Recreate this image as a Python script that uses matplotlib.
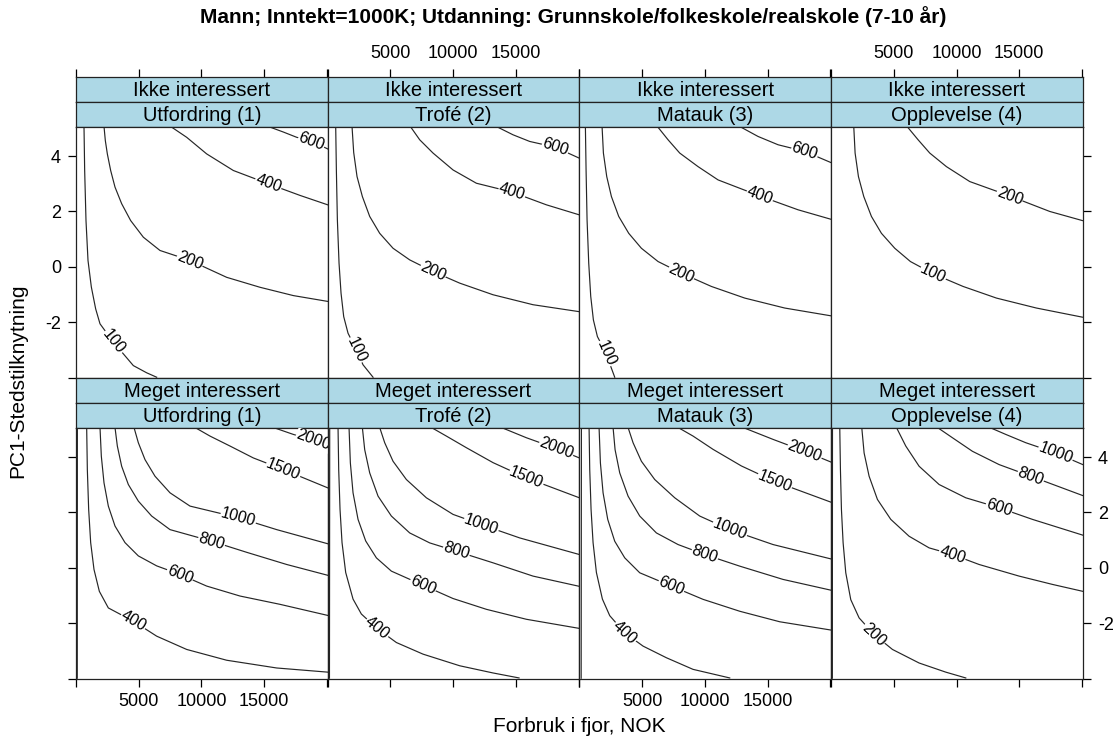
import numpy as np
import matplotlib.pyplot as plt

plt.rcParams.update({
    'font.family': ['Liberation Sans', 'DejaVu Sans'],
    'axes.unicode_minus': False,
})

# ---------------------------------------------------------------------------
# DATA (contour lines; x = Forbruk i fjor, y = PC1)
# ---------------------------------------------------------------------------
interest_names = ['Ikke interessert', 'Meget interessert']
motive_names = ['Utfordring (1)', 'Trofé (2)', 'Matauk (3)', 'Opplevelse (4)']

x_ticks = [0, 5000, 10000, 15000, 20000]
x_ticklabels = ['', '5000', '10000', '15000', '']
y_ticks = [-4, -2, 0, 2, 4]
y_ticklabels = ['', '-2', '0', '2', '4']
x_range = (0, 20070)
y_range = (-4.0, 5.07)

# --- Ikke interessert ---
ikke_utf_lev = [100, 200, 400, 600]
ikke_utf_x = [[638, 691, 797, 957, 1223, 1568, 1914, 2977, 4572, 5635, 6432],
              [2233, 2339, 2499, 2764, 3110, 3641, 4359, 5369, 6698, 9090,
               12014, 14672, 17330, 20068],
              [7549, 8824, 10419, 12546, 15337, 17862, 20068],
              [15337, 16533, 17596, 18793, 20068]]
ikke_utf_y = [[5.07, 3.48, 1.67, 0.23, -0.73, -1.52, -2.06, -2.72, -3.57, -3.83, -3.99],
              [5.07, 4.56, 4.08, 3.48, 2.88, 2.28, 1.67, 1.07, 0.59, 0.23,
               -0.38, -0.74, -1.04, -1.25],
              [5.07, 4.68, 4.08, 3.48, 3.00, 2.58, 2.24],
              [5.07, 4.87, 4.68, 4.54, 4.26]]
ikke_utf_lab = [7, 9, 4, 3]

ikke_tro_lev = [100, 200, 400, 600]
ikke_tro_x = [[638, 691, 771, 904, 1063, 1276, 1621, 2286, 2817, 3615],
              [1940, 2073, 2339, 2764, 3349, 4146, 5210, 6539, 8399, 10526,
               13184, 16373, 20041],
              [6592, 7336, 8399, 9994, 11855, 14698, 17436, 20041],
              [13449, 14778, 16107, 18154, 20041]]
ikke_tro_y = [[5.07, 3.50, 1.70, 0.13, -0.95, -1.80, -2.40, -3.00, -3.54, -3.99],
              [5.07, 4.13, 3.26, 2.54, 1.82, 1.21, 0.67, 0.25, -0.17, -0.59,
               -1.01, -1.37, -1.62],
              [5.07, 4.59, 4.11, 3.50, 3.02, 2.70, 2.24, 1.88],
              [5.07, 4.77, 4.53, 4.32, 3.93]]
ikke_tro_lab = [7, 8, 5, 3]

ikke_mat_lev = [100, 200, 400, 600]
ikke_mat_x = [[478, 532, 611, 744, 904, 1116, 1435, 2126, 2499, 2817],
              [1807, 1914, 2180, 2552, 3136, 3934, 4944, 6273, 8133, 10526,
               13184, 16373, 20041],
              [6220, 7070, 8000, 9462, 11057, 14380, 17436, 20041],
              [12785, 14246, 15842, 17968, 20041]]
ikke_mat_y = [[5.07, 3.50, 1.70, 0.13, -1.07, -1.92, -2.52, -3.12, -3.60, -3.99],
              [5.07, 4.11, 3.26, 2.54, 1.82, 1.21, 0.67, 0.19, -0.23, -0.71,
               -1.13, -1.49, -1.77],
              [5.07, 4.59, 4.11, 3.62, 3.14, 2.56, 2.06, 1.72],
              [5.07, 4.71, 4.41, 4.17, 3.77]]
ikke_mat_lab = [7, 8, 5, 3]

ikke_opp_lev = [100, 200]
ikke_opp_x = [[1807, 1914, 2180, 2605, 3216, 4014, 5077, 6326, 8133, 10526,
               13184, 16373, 20041],
              [6060, 6937, 7867, 9196, 11057, 14246, 17436, 20041]]
ikke_opp_y = [[5.07, 4.11, 3.26, 2.54, 1.82, 1.21, 0.67, 0.19, -0.25, -0.71,
               -1.13, -1.49, -1.82],
              [5.07, 4.59, 4.11, 3.62, 3.08, 2.56, 2.00, 1.67]]
ikke_opp_lab = [8, 5]

# --- Meget interessert ---
meget_utf_lev = [200, 400, 600, 800, 1000, 1500, 2000]
meget_utf_x = [[110, 100],
               [851, 904, 1010, 1170, 1435, 1861, 2578, 4572, 6432, 8824,
                12014, 16001, 20068],
               [1914, 2020, 2233, 2578, 3110, 3907, 4970, 6432, 8293, 10419,
                13077, 16267, 20068],
               [3110, 3296, 3641, 4173, 4970, 6034, 7496, 10818, 13609, 16799, 20068],
               [4625, 4970, 5502, 6299, 7496, 9090, 12945, 16001, 20068],
               [9489, 10685, 12280, 14141, 16533, 20068],
               [15736, 17330, 18925, 20068]]
meget_utf_y = [[5.07, -3.99],
               [5.07, 3.55, 2.11, 0.91, -0.06, -0.85, -1.45, -1.93, -2.47, -2.95,
                -3.34, -3.62, -3.77],
               [5.07, 4.03, 3.07, 2.23, 1.51, 0.91, 0.43, 0.07, -0.24, -0.66,
                -1.02, -1.32, -1.72],
               [5.07, 4.40, 3.67, 3.01, 2.41, 1.87, 1.38, 0.96, 0.56, 0.12, -0.27],
               [5.07, 4.52, 3.91, 3.31, 2.71, 2.23, 1.81, 1.38, 0.87],
               [5.07, 4.76, 4.40, 3.97, 3.55, 2.89],
               [5.07, 4.82, 4.61, 4.37]]
meget_utf_lab = [None, 7, 8, 7, 6, 4, 2]

meget_tro_lev = [200, 400, 600, 800, 1000, 1500, 2000]
meget_tro_x = [[160, 140],
               [824, 877, 983, 1143, 1435, 2020, 2684, 3934, 5476, 7602,
                10526, 13184, 15257],
               [1701, 1807, 2020, 2419, 3030, 3881, 5077, 7602, 9994, 12652,
                15842, 20068],
               [2764, 2950, 3349, 4014, 5077, 6539, 8133, 10260, 13184, 16373, 20068],
               [4146, 4545, 5210, 6273, 7868, 9994, 12253, 15310, 20068],
               [8266, 9462, 11057, 13184, 15842, 20068],
               [13848, 15842, 18234, 20068]]
meget_tro_y = [[5.07, -3.99],
               [5.07, 3.55, 2.11, 0.91, -0.17, -1.13, -1.67, -2.19, -2.70, -3.12,
                -3.54, -3.80, -3.98],
               [5.07, 3.79, 2.71, 1.75, 0.97, 0.36, -0.12, -0.63, -1.11, -1.50,
                -1.86, -2.19],
               [5.07, 4.27, 3.43, 2.59, 1.87, 1.26, 0.90, 0.60, 0.18, -0.30, -0.67],
               [5.07, 4.52, 3.85, 3.19, 2.53, 1.93, 1.56, 1.08, 0.48],
               [5.07, 4.76, 4.34, 3.80, 3.25, 2.53],
               [5.07, 4.70, 4.31, 3.97]]
meget_tro_lab = [None, 7, 7, 7, 6, 4, 2]

meget_mat_lev = [200, 400, 600, 800, 1000, 1500, 2000]
meget_mat_x = [[160, 140],
               [771, 824, 930, 1090, 1356, 1834, 2419, 3615, 5077, 6937, 9063, 11987],
               [1568, 1675, 1887, 2259, 2817, 3615, 4811, 7336, 9861, 12785,
                15975, 20068],
               [2685, 2844, 3216, 3881, 4811, 6140, 7868, 9994, 12785, 16240, 20068],
               [3881, 4279, 4944, 6007, 7602, 9595, 11987, 15443, 20068],
               [7868, 9063, 10658, 12918, 15576, 20068],
               [13051, 15443, 17968, 20068]]
meget_mat_y = [[5.07, -3.99],
               [5.07, 3.55, 2.11, 0.91, -0.17, -1.13, -1.73, -2.35, -2.83, -3.25,
                -3.67, -3.98],
               [5.07, 3.79, 2.71, 1.75, 0.96, 0.36, -0.18, -0.66, -1.14, -1.57,
                -1.95, -2.25],
               [5.07, 4.27, 3.43, 2.59, 1.87, 1.26, 0.84, 0.48, 0.06, -0.42, -0.81],
               [5.07, 4.52, 3.85, 3.19, 2.53, 1.87, 1.38, 0.84, 0.32],
               [5.07, 4.76, 4.28, 3.68, 3.12, 2.37],
               [5.07, 4.64, 4.21, 3.82]]
meget_mat_lab = [None, 7, 7, 7, 6, 4, 2]

meget_opp_lev = [100, 200, 400, 600, 800, 1000]
meget_opp_x = [[110, 100],
               [691, 744, 824, 957, 1170, 1568, 2233, 3429, 4891, 7017, 9143, 10738],
               [2445, 2632, 3030, 3695, 4758, 6220, 7815, 9675, 11801, 14991,
                17649, 20068],
               [5210, 5954, 7017, 8612, 10738, 13396, 16054, 20068],
               [8479, 9675, 11270, 13396, 15922, 20068],
               [12652, 13928, 15523, 17915, 20068]]
meget_opp_y = [[5.07, -3.99],
               [5.07, 3.55, 2.11, 0.91, -0.18, -1.15, -1.81, -2.41, -2.95, -3.44,
                -3.77, -3.98],
               [5.07, 4.15, 3.31, 2.47, 1.75, 1.14, 0.72, 0.48, 0.12, -0.30,
                -0.60, -0.85],
               [5.07, 4.40, 3.67, 3.01, 2.53, 2.17, 1.75, 1.18],
               [5.07, 4.70, 4.21, 3.73, 3.31, 2.61],
               [5.07, 4.82, 4.52, 4.15, 3.73]]
meget_opp_lab = [None, 7, 7, 5, 4, 3]

panels = [
    [(ikke_utf_lev, ikke_utf_x, ikke_utf_y, ikke_utf_lab),
     (ikke_tro_lev, ikke_tro_x, ikke_tro_y, ikke_tro_lab),
     (ikke_mat_lev, ikke_mat_x, ikke_mat_y, ikke_mat_lab),
     (ikke_opp_lev, ikke_opp_x, ikke_opp_y, ikke_opp_lab)],
    [(meget_utf_lev, meget_utf_x, meget_utf_y, meget_utf_lab),
     (meget_tro_lev, meget_tro_x, meget_tro_y, meget_tro_lab),
     (meget_mat_lev, meget_mat_x, meget_mat_y, meget_mat_lab),
     (meget_opp_lev, meget_opp_x, meget_opp_y, meget_opp_lab)],
]

# ---------------------------------------------------------------------------
# LAYOUT (pixels)
# ---------------------------------------------------------------------------
W, H = 1119, 748
fig = plt.figure(figsize=(W / 100, H / 100), dpi=100)

PAN_L, PAN_W = 76, 251.7
ROW_TOP = [76.5, 377.5]
STRIP_H, PAN_H = 25, 251
STRIP_COL = '#ADD8E6'
LINE_COL = '#262626'
TICK_LEN = 5.8


def box(left, top, width, height):
    return [left / W, 1 - (top + height) / H, width / W, height / H]


def style_spines(ax):
    for s in ax.spines.values():
        s.set_color('#222222')
        s.set_linewidth(0.9)


for r in range(2):
    for c in range(4):
        left = PAN_L + c * PAN_W
        top = ROW_TOP[r]
        # strips
        s1 = fig.add_axes(box(left, top, PAN_W, STRIP_H))
        s2 = fig.add_axes(box(left, top + STRIP_H, PAN_W, STRIP_H))
        for s, txt in ((s1, interest_names[r]), (s2, motive_names[c])):
            s.set_facecolor(STRIP_COL)
            s.set_xlim(*x_range)
            s.set_yticks([])
            s.set_xticks([])
            style_spines(s)
            s.text(0.5, 0.45, txt, transform=s.transAxes, ha='center',
                   va='center', fontsize=14.5)
        if r == 0:
            s1.set_xticks(x_ticks)
            s1.xaxis.tick_top()
            s1.tick_params(axis='x', direction='out', length=TICK_LEN,
                           width=0.9, pad=5, labelsize=13,
                           labeltop=(c % 2 == 1))
            s1.set_xticklabels(x_ticklabels)

        ax = fig.add_axes(box(left, top + 2 * STRIP_H, PAN_W, PAN_H))
        ax.set_xlim(*x_range)
        ax.set_ylim(*y_range)
        style_spines(ax)

        if r == 1:
            ax.set_xticks(x_ticks)
            ax.set_xticklabels(x_ticklabels)
            ax.tick_params(axis='x', direction='out', length=TICK_LEN,
                           width=0.9, pad=5, labelsize=13,
                           labelbottom=(c % 2 == 0))
        else:
            ax.set_xticks([])

        if c == 0 or c == 3:
            ax.set_yticks(y_ticks)
            ax.set_yticklabels(y_ticklabels)
            ax.tick_params(axis='y', direction='out', length=TICK_LEN,
                           width=0.9, pad=5, labelsize=13)
            if c == 0:
                ax.tick_params(axis='y', left=True, right=False,
                               labelleft=(r == 0), labelright=False)
            else:
                ax.yaxis.tick_right()
                ax.tick_params(axis='y', labelright=(r == 1))
        else:
            ax.set_yticks([])

        levels, xs, ys, labs = panels[r][c]
        for lev, xv, yv, li in zip(levels, xs, ys, labs):
            ax.plot(xv, yv, color=LINE_COL, lw=0.85, zorder=2,
                    solid_joinstyle='round')
            if li is None:
                continue
            pts = ax.transData.transform(np.column_stack([xv, yv]))
            i0, i1 = max(li - 1, 0), min(li + 1, len(xv) - 1)
            ang = np.degrees(np.arctan2(pts[i1, 1] - pts[i0, 1],
                                        pts[i1, 0] - pts[i0, 0]))
            if ang > 90:
                ang -= 180
            if ang < -90:
                ang += 180
            ax.text(xv[li], yv[li], str(lev), rotation=ang,
                    rotation_mode='anchor', ha='center', va='center',
                    fontsize=11.5, zorder=3, clip_on=True,
                    bbox=dict(fc='white', ec='none', pad=0.3))

fig.text(573 / W, 1 - 17 / H,
         'Mann; Inntekt=1000K; Utdanning: Grunnskole/folkeskole/realskole (7-10 år)',
         ha='center', va='center', fontsize=15, fontweight='bold')
fig.text(579.5 / W, 1 - 726 / H, 'Forbruk i fjor, NOK', ha='center',
         va='center', fontsize=15)
fig.text(18 / W, 1 - 381 / H, 'PC1-Stedstilknytning', ha='center',
         va='center', rotation=90, fontsize=15)

fig.savefig('out.png', dpi=100)
